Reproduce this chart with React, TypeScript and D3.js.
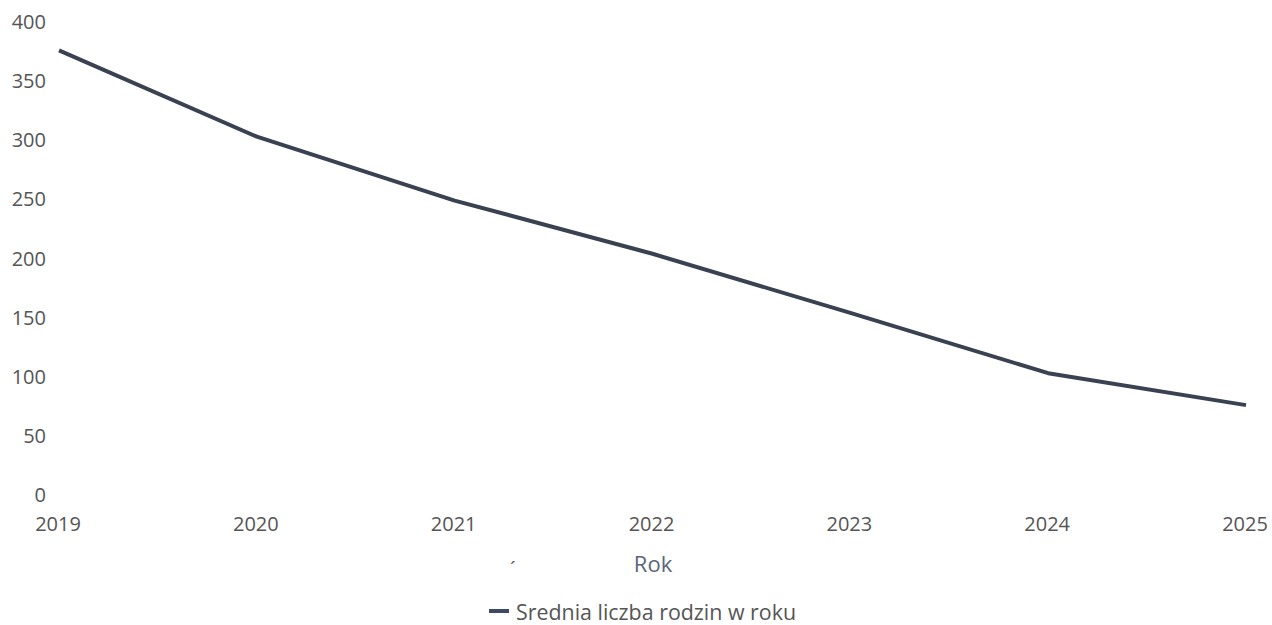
import React from "react";
import * as d3 from "d3";

const years = [2019, 2020, 2021, 2022, 2023, 2024, 2025];
const values = [376, 303, 249, 204, 154, 103, 76];
const yTicks = [0, 50, 100, 150, 200, 250, 300, 350, 400];
const seriesName = "Srednia liczba rodzin w roku";
const xTitle = "Rok";

const W = 1272;
const H = 625;

export default function App() {
  const x = d3.scaleLinear().domain([2019, 2025]).range([59, 1246]);
  const y = d3.scaleLinear().domain([0, 400]).range([495, 22]);
  const line = d3
    .line<number>()
    .x((_, i) => x(years[i]))
    .y((d) => y(d))
    .curve(d3.curveLinear);
  const font = "'Open Sans', 'Noto Sans', sans-serif";
  return (
    <svg
      width={W}
      height={H}
      style={{ position: "absolute", left: 0, top: 0, background: "#fff" }}
      fontFamily={font}
    >
      {yTicks.map((t) => (
        <text
          key={t}
          x={46}
          y={y(t)}
          dy="0.35em"
          textAnchor="end"
          fontSize={20}
          fill="#555"
        >
          {t}
        </text>
      ))}
      {years.map((yr) => (
        <text
          key={yr}
          x={x(yr) - 1}
          y={531}
          textAnchor="middle"
          fontSize={20}
          fill="#555"
        >
          {yr}
        </text>
      ))}
      <text x={653} y={572} textAnchor="middle" fontSize={22} fill="#5b6577">
        {xTitle}
      </text>
      <path
        d={line(values) || ""}
        fill="none"
        stroke="#3a4252"
        strokeWidth={4}
        strokeLinejoin="round"
      />
      <line x1={489} x2={509} y1={611} y2={611} stroke="#3d4a63" strokeWidth={4} />
      <text x={510} y={576} fontSize={20} fill="#555">
        ´
      </text>
      <text x={516} y={620} fontSize={21.4} fill="#555">
        {seriesName}
      </text>
    </svg>
  );
}
